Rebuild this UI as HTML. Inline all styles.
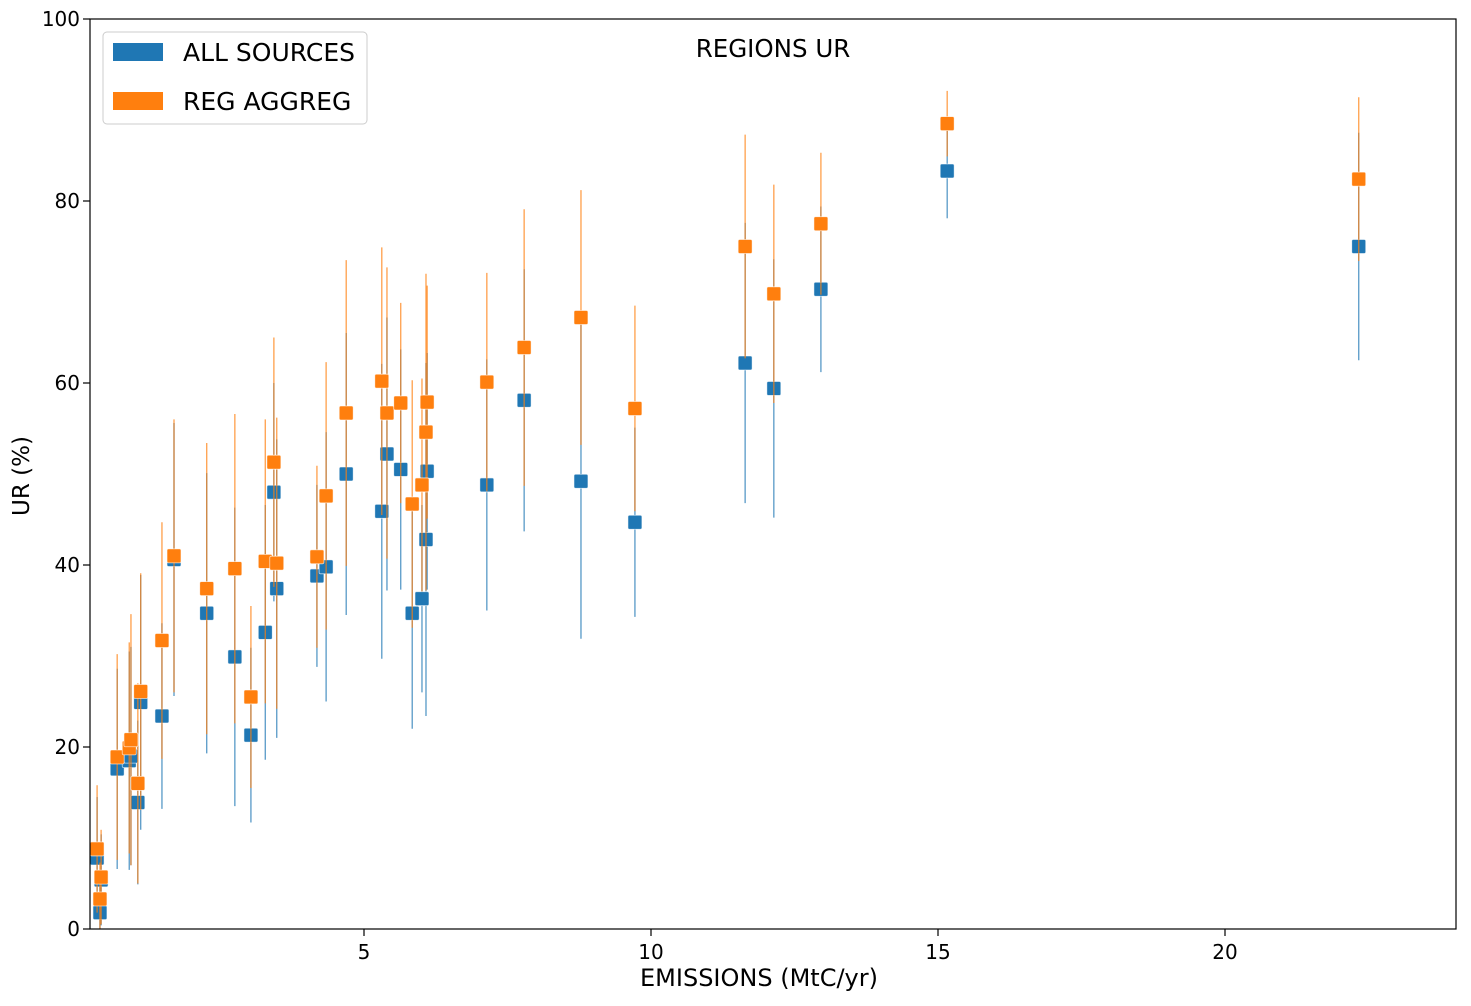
<!DOCTYPE html>
<html><head><meta charset="utf-8"><style>
body{margin:0;background:#fff;}
svg text{font-family:"DejaVu Sans","Liberation Sans",sans-serif;}
</style></head><body>
<svg id="chart" width="1471" height="1001" xmlns="http://www.w3.org/2000/svg">
<rect x="0" y="0" width="1471" height="1001" fill="#fff"/>
<g id="plot"></g>
<rect x="90" y="19" width="1366" height="910" fill="none" stroke="#000" stroke-width="1.2"/>
<g id="xt"></g>
<g id="yt"></g>
<text x="759" y="986" font-size="24" text-anchor="middle">EMISSIONS (MtC/yr)</text>
<text transform="translate(29,476) rotate(-90)" font-size="23" text-anchor="middle">UR (%)</text>
<text x="773" y="57" font-size="24.5" text-anchor="middle">REGIONS UR</text>
<g>
<rect x="103" y="32" width="264" height="92" rx="4" fill="#fff" fill-opacity="0.8" stroke="#ccc"/>
<g><rect x="113" y="43" width="50" height="18" fill="#1f77b4"/><text x="183" y="61" font-size="25">ALL SOURCES</text></g>
<g><rect x="113" y="92" width="50" height="18" fill="#ff7f0e"/><text x="183" y="110" font-size="25">REG AGGREG</text></g>
</g>
</svg>
<script>
const xs=[0.35,0.40,0.42,0.70,0.91,0.94,1.06,1.11,1.48,1.69,2.26,2.75,3.03,3.28,3.43,3.48,4.18,4.34,4.69,5.31,5.40,5.64,5.84,6.01,6.08,6.10,7.14,7.79,8.78,9.72,11.64,12.14,12.96,15.16,22.33];
const allY=[7.8,1.8,5.4,17.6,18.5,19.0,13.9,24.9,23.4,40.6,34.7,29.9,21.3,32.6,48.0,37.4,38.8,39.8,50.0,45.9,52.2,50.5,34.7,36.3,42.8,50.3,48.8,58.1,49.2,44.7,62.2,59.4,70.3,83.3,75.0];
const allErr=[6.7,3,5,11,12,12,9,14,10.2,15,15.4,16.4,9.6,14,12,16.4,10,14.8,15.5,16.2,15,13.2,12.7,10.3,19.4,13,13.8,14.4,17.3,10.4,15.4,14.2,9.1,5.2,12.5];
const regY=[8.8,3.3,5.7,18.9,19.9,20.8,16.0,26.1,31.7,41.0,37.4,39.6,25.5,40.4,51.3,40.2,40.9,47.6,56.7,60.2,56.7,57.8,46.7,48.8,54.6,57.9,60.1,63.9,67.2,57.2,75.0,69.8,77.5,88.5,82.4];
const regErr=[7,4,5.2,11.3,11.6,13.8,11,13,13,15,16,17,10,15.6,13.7,16,10,14.7,16.8,14.7,16,11,13.6,11.7,17.4,12.8,12,15.2,14,11.3,12.3,12,7.8,3.6,9];
const xTicks=[5,10,15,20];
const yTicks=[0,20,40,60,80,100];
const X=v=>77+57.4*v, Y=v=>929-9.1*v;
const NS='http://www.w3.org/2000/svg';
const plot=document.getElementById('plot');
function mk(t,a,p){const e=document.createElementNS(NS,t);for(const k in a)e.setAttribute(k,a[k]);p.appendChild(e);return e;}
function series(ys,errs,col,name){
  const g=mk('g',{},plot);
  
  
  ys.forEach((y,i)=>{
    const lo=Math.max(0,y-errs[i]);
    const l=mk('line',{x1:X(xs[i]),x2:X(xs[i]),y1:Y(lo),y2:Y(y+errs[i]),stroke:col,'stroke-width':1.3,'stroke-opacity':0.75},g);
    
    
  });
  ys.forEach((y,i)=>{
    const r=mk('rect',{x:X(xs[i])-7,y:Y(y)-7,width:14,height:14,rx:1.5,fill:col,stroke:'#fff','stroke-width':0.8,'stroke-opacity':0.7},g);
    
    
  });
}
series(allY,allErr,'#1f77b4','all-sources');
series(regY,regErr,'#ff7f0e','reg-aggreg');
const xt=document.getElementById('xt'), yt=document.getElementById('yt');
xTicks.forEach(v=>{
  const l=mk('line',{x1:X(v),x2:X(v),y1:929,y2:936,stroke:'#000','stroke-width':1.2},xt);
  
  
  const t=mk('text',{x:X(v),y:959,'font-size':20,'text-anchor':'middle'},xt);t.textContent=v;
  
  
});
yTicks.forEach(v=>{
  const l=mk('line',{x1:83,x2:90,y1:Y(v),y2:Y(v),stroke:'#000','stroke-width':1.2},yt);
  
  
  const t=mk('text',{x:80,y:Y(v)+7,'font-size':20,'text-anchor':'end'},yt);t.textContent=v;
  
  
});
</script>
</body></html>
